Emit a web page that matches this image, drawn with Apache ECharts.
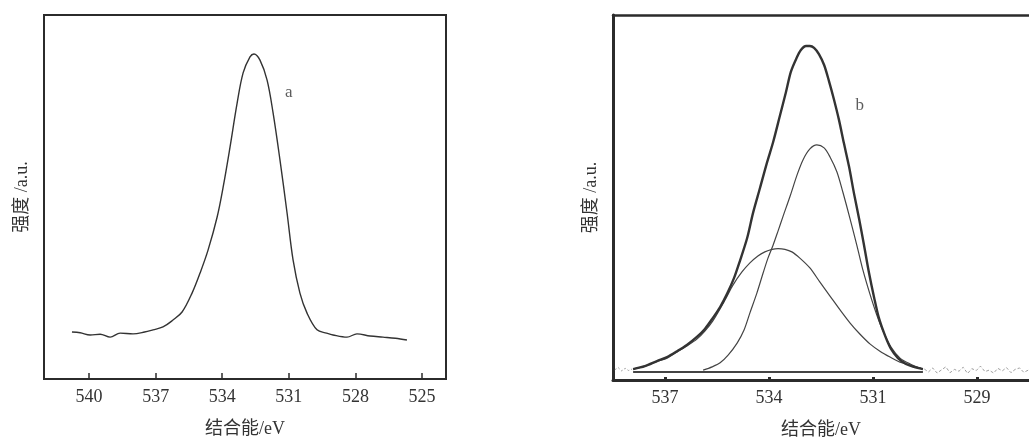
<!DOCTYPE html>
<html>
<head>
<meta charset="utf-8">
<script src="https://cdn.jsdelivr.net/npm/echarts@6/dist/echarts.min.js"></script>
<style>
html,body{margin:0;padding:0;background:#fff;}
#c{width:1029px;height:438px;}
</style>
</head>
<body>
<div id="c"></div>
<script>
// ---- Data ----
var xName = '结合能/eV';
var yName = '强度 /a.u.';
var leftTickValues = [540, 537, 534, 531, 528, 525];
var leftTickLabels = ['540', '537', '534', '531', '528', '525'];
var rightTickValues = [537, 534, 531, 528];
var rightTickLabels = ['537', '534', '531', '529'];

// panel a: measured O1s spectrum
var aX = [540.77, 540.4, 539.95, 539.5, 539.05, 538.6, 538.02, 537.5, 537.12, 536.67, 536.22, 535.81, 535.36, 535.0, 534.64, 534.23, 533.96, 533.65, 533.33, 533.06, 532.75, 532.57, 532.3, 531.98, 531.71, 531.4, 531.08, 530.81, 530.5, 530.18, 529.73, 529.3, 529.01, 528.38, 527.93, 527.34, 526.76, 526.2, 525.68];
var aY = [12.9, 12.7, 12.1, 12.3, 11.5, 12.6, 12.4, 12.9, 13.5, 14.3, 16.2, 18.4, 23.6, 29.1, 35.4, 44.5, 52.7, 63.7, 75.8, 84.1, 88.5, 89.3, 87.6, 82.1, 73.1, 60.2, 45.6, 32.7, 23.6, 18.1, 13.5, 12.6, 12.1, 11.5, 12.4, 11.8, 11.5, 11.2, 10.7];

// panel b: envelope (fit sum)
var envX = [537.92, 537.58, 537.23, 536.94, 536.65, 536.37, 536.08, 535.85, 535.62, 535.41, 535.21, 535.01, 534.84, 534.63, 534.46, 534.26, 534.06, 533.88, 533.68, 533.51, 533.37, 533.22, 533.08, 532.93, 532.82, 532.7, 532.56, 532.41, 532.27, 532.13, 531.98, 531.84, 531.69, 531.55, 531.4, 531.26, 531.12, 530.97, 530.83, 530.65, 530.48, 530.28, 530.05, 529.82, 529.56];
var envY = [3.0, 3.8, 5.2, 6.3, 7.9, 9.6, 11.8, 14.0, 17.0, 20.0, 23.6, 27.9, 32.6, 38.9, 45.8, 52.6, 59.5, 65.2, 72.6, 78.9, 84.4, 87.9, 90.4, 91.5, 91.5, 91.0, 89.3, 86.3, 81.9, 77.0, 71.2, 64.9, 58.4, 51.2, 44.1, 37.0, 29.6, 22.7, 17.0, 12.1, 8.5, 6.0, 4.4, 3.6, 3.0];
// panel b: narrow component
var p1X = [535.9, 535.64, 535.41, 535.18, 534.92, 534.72, 534.55, 534.35, 534.17, 534.03, 533.88, 533.74, 533.6, 533.39, 533.19, 533.02, 532.82, 532.62, 532.41, 532.24, 532.04, 531.87, 531.66, 531.46, 531.29, 531.09, 530.89, 530.71, 530.48, 530.22, 529.93, 529.56];
var p1Y = [2.7, 3.6, 4.7, 6.8, 10.1, 13.7, 18.4, 23.8, 29.3, 33.4, 37.0, 40.8, 44.7, 50.4, 56.2, 60.3, 63.3, 64.4, 63.6, 61.1, 57.0, 51.5, 44.1, 36.7, 30.1, 23.6, 17.8, 13.4, 9.0, 6.0, 4.4, 3.0];
// panel b: broad component
var p2X = [537.92, 537.58, 537.23, 536.94, 536.65, 536.37, 536.08, 535.85, 535.62, 535.27, 535.04, 534.78, 534.55, 534.32, 534.12, 533.91, 533.74, 533.54, 533.34, 533.11, 532.82, 532.53, 532.24, 531.95, 531.66, 531.38, 531.09, 530.8, 530.51, 530.22, 529.93, 529.56];
var p2Y = [3.0, 3.8, 5.1, 6.0, 7.7, 9.3, 11.2, 13.4, 16.2, 21.9, 26.0, 29.6, 32.1, 34.0, 35.1, 35.8, 36.0, 35.8, 35.1, 33.4, 30.7, 26.8, 23.0, 19.2, 15.6, 12.6, 9.9, 7.9, 6.3, 4.9, 4.1, 3.0];
// panel b: background line
var bgX = [537.92, 529.56];
var bgY = [2.2, 2.2];
// panel b: raw noise outside fit range
var noiseLX = [538.45, 538.35, 538.25, 538.15, 538.05, 537.95];
var noiseLY = [2.8, 3.4, 2.5, 3.2, 2.6, 3.0];
var noiseRX = [529.52, 529.4, 529.28, 529.15, 529.02, 528.9, 528.78, 528.65, 528.52, 528.4, 528.27, 528.15, 528.02, 527.9, 527.77, 527.65, 527.52, 527.4, 527.27, 527.15, 527.02, 526.9, 526.77, 526.65, 526.5];
var noiseRY = [3.0, 2.2, 3.3, 1.9, 2.8, 3.6, 2.0, 2.9, 2.4, 3.5, 1.8, 3.1, 2.6, 3.8, 2.3, 2.7, 1.9, 3.2, 2.5, 3.4, 2.0, 2.9, 3.3, 2.1, 2.8];

var labelA = {text: 'a', x: 531.0, y: 78.8};
var labelB = {text: 'b', x: 531.38, y: 75.1};

function zip(xs, ys) { return xs.map(function (x, i) { return [x, ys[i]]; }); }

var SERIF = '"Liberation Serif", "DejaVu Serif", "Noto Sans CJK SC", serif';
var INK = '#2b2b2b';

function xAxisFor(gi, min, max, vals, labs, tickLen, tickW, lineW) {
  return {
    gridIndex: gi, type: 'value', inverse: true, min: min, max: max, position: 'bottom',
    name: xName, nameLocation: 'middle', nameGap: 41,
    nameTextStyle: {fontFamily: SERIF, fontSize: 18, color: '#333'},
    axisLine: {show: true, onZero: false, lineStyle: {color: INK, width: lineW}},
    axisTick: {show: true, inside: true, length: tickLen, customValues: vals, lineStyle: {color: INK, width: tickW}},
    axisLabel: {show: true, customValues: vals, margin: 9, fontFamily: SERIF, fontSize: 18, color: '#333',
      formatter: function (v) { var i = vals.indexOf(Math.round(v)); return i >= 0 ? labs[i] : ''; }},
    splitLine: {show: false}
  };
}
function yAxisFor(gi, lineW) {
  return {
    gridIndex: gi, type: 'value', min: 0, max: 100,
    name: yName, nameLocation: 'middle', nameGap: 13, nameRotate: 90,
    nameTextStyle: {fontFamily: SERIF, fontSize: 18, color: '#333'},
    axisLine: {show: true, lineStyle: {color: INK, width: lineW}},
    axisTick: {show: false}, axisLabel: {show: false}, splitLine: {show: false}
  };
}
function lineSeries(gi, data, w, color, smooth, extra) {
  var s = {type: 'line', xAxisIndex: gi, yAxisIndex: gi, data: data, showSymbol: false, symbol: 'none',
    smooth: smooth, lineStyle: {color: color, width: w}, silent: true, animation: false, z: 3};
  if (extra) { for (var k in extra) s.lineStyle[k] = extra[k]; }
  return s;
}
function textSeries(gi, lab) {
  return {type: 'scatter', xAxisIndex: gi, yAxisIndex: gi, symbolSize: 0, data: [[lab.x, lab.y]], silent: true,
    label: {show: true, position: 'inside', formatter: lab.text, fontFamily: SERIF, fontSize: 17, color: '#333'}};
}

var chart = echarts.init(document.getElementById('c'), null, {renderer: 'canvas'});
chart.setOption({
  animation: false,
  backgroundColor: '#fff',
  grid: [
    {left: 44, top: 15, width: 402, height: 364, show: true, borderColor: INK, borderWidth: 2,
     containLabel: false, outerBoundsMode: 'none'},
    {left: 613, top: 15, right: 0, height: 365, show: false, containLabel: false, outerBoundsMode: 'none'}
  ],
  xAxis: [
    xAxisFor(0, 523.92, 542.03, leftTickValues, leftTickLabels, 6, 1.5, 2),
    xAxisFor(1, 526.5, 538.5, rightTickValues, rightTickLabels, 3, 3, 3),
    {gridIndex: 1, type: 'value', inverse: true, min: 526.5, max: 538.5, position: 'top',
     axisLine: {show: true, onZero: false, lineStyle: {color: INK, width: 2.5}},
     axisTick: {show: false}, axisLabel: {show: false}, splitLine: {show: false}}
  ],
  yAxis: [yAxisFor(0, 2), yAxisFor(1, 3)],
  series: [
    lineSeries(0, zip(aX, aY), 1.4, '#333', 0.35),
    textSeries(0, labelA),
    lineSeries(1, zip(bgX, bgY), 2, '#444', false),
    lineSeries(1, zip(noiseLX, noiseLY), 0.8, '#888', false, {type: [2, 2]}),
    lineSeries(1, zip(noiseRX, noiseRY), 0.8, '#888', false, {type: [3, 2]}),
    lineSeries(1, zip(p2X, p2Y), 1.2, '#444', 0.3),
    lineSeries(1, zip(p1X, p1Y), 1.2, '#444', 0.3),
    lineSeries(1, zip(envX, envY), 2.4, '#333', 0.3),
    textSeries(1, labelB)
  ]
});
</script>
</body>
</html>
